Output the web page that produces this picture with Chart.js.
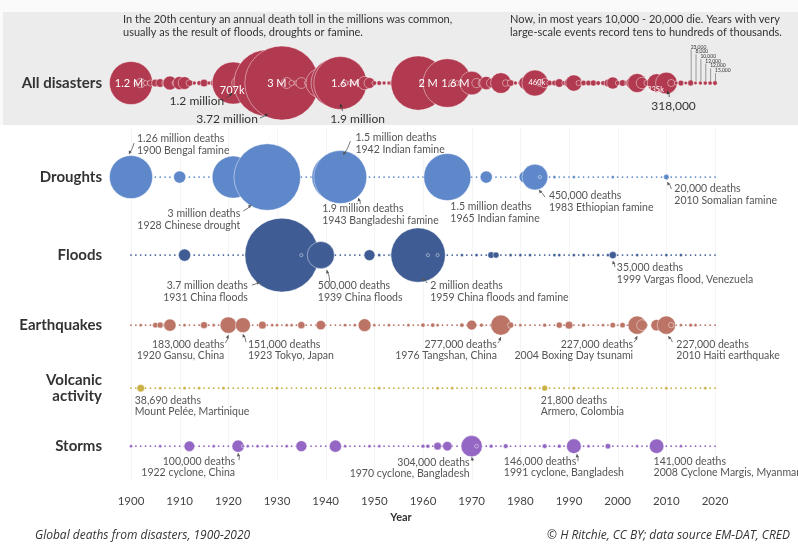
<!DOCTYPE html>
<html>
<head>
<meta charset="utf-8">
<script src="https://cdn.jsdelivr.net/npm/chart.js@4.4.0/dist/chart.umd.min.js"></script>
<style>
    html, body { margin: 0; padding: 0; background: #fff; }
    #wrap { width: 798px; height: 544px; position: relative; }
</style>
</head>
<body>
<div id="wrap"><canvas id="chart"></canvas></div>
<script>
// ---- data (deaths in thousands) ----
const firstYear = 1900;
// all disasters, one value per year 1900..2020
const allDeaths = [
    1260, 10, 60, 15, 25, 40, 50, 30, 130, 20,      // 1900s
    120, 110, 30, 10, 15, 40, 10, 30, 10, 15,       // 1910s
    707, 1200, 110, 160, 20, 15, 20, 50, 3000, 10,  // 1920s
    20, 3720, 80, 20, 15, 80, 10, 20, 10, 600,      // 1930s
    30, 20, 1600, 1900, 20, 10, 10, 15, 120, 80,    // 1940s
    15, 15, 10, 10, 40, 10, 10, 10, 20, 2000,       // 1950s
    30, 15, 20, 50, 20, 1600, 30, 15, 30, 20,       // 1960s
    380, 60, 30, 120, 60, 30, 290, 30, 30, 10,      // 1970s
    15, 110, 20, 460, 30, 60, 20, 20, 50, 15,       // 1980s
    60, 180, 20, 20, 20, 25, 15, 15, 40, 100,       // 1990s
    15, 30, 20, 100, 245, 90, 25, 20, 235, 15,      // 2000s
    318, 35, 10, 22, 8, 23, 8, 10, 12, 12,          // 2010s
    15                                              // 2020
];
const allInside = [[1900, '1.2 M'], [1921, '707k'], [1931, '3 M'], [1943, '1.6 M'], [1959, '2 M'], [1965, '1.6 M'], [1983, '460k'], [2008, '235k']];
const recentYears = [2015, 2016, 2017, 2018, 2019, 2020];
const recentDeaths = ['23,000', '8,000', '10,000', '12,000', '12,000', '15,000'];

const droughtYears  = [1900, 1910, 1920, 1921, 1928, 1940, 1942, 1943, 1965, 1973, 1981, 1983, 1984, 1987, 1991, 1999, 2010];
const droughtDeaths = [1260, 100, 500, 1200, 3000, 2, 1500, 1900, 1500, 100, 100, 450, 5, 3, 3, 2, 20];

const floodYears  = [1911, 1927, 1931, 1935, 1939, 1949, 1951, 1954, 1959, 1961, 1963, 1968, 1971, 1974, 1975, 1978, 1980, 1982, 1987, 1988, 1991, 1993, 1996, 1998, 1999, 2004, 2010, 2013];
const floodDeaths = [100, 3, 3700, 3, 500, 80, 5, 30, 2000, 2, 3, 4, 5, 29, 25, 4, 3, 4, 3, 6, 5, 4, 4, 6, 35, 5, 6, 6];

const quakeYears  = [1902, 1905, 1906, 1907, 1908, 1911, 1915, 1917, 1920, 1923, 1927, 1929, 1930, 1932, 1933, 1935, 1939, 1944, 1946, 1948, 1950, 1953, 1957, 1960, 1962, 1963, 1968, 1970, 1972, 1974, 1976, 1978, 1980, 1985, 1988, 1990, 1993, 1997, 1999, 2001, 2003, 2004, 2005, 2008, 2010, 2011, 2013, 2015, 2016];
const quakeDeaths = [2, 20, 25, 12, 100, 3, 33, 3, 183, 151, 40, 3, 5, 3, 3, 35, 60, 8, 5, 110, 3, 3, 3, 12, 12, 3, 12, 66, 10, 5, 277, 25, 5, 10, 25, 40, 10, 3, 20, 20, 30, 227, 80, 87, 227, 20, 3, 9, 3];

const volcanoYears  = [1902, 1906, 1911, 1914, 1919, 1930, 1951, 1963, 1966, 1982, 1985, 1991, 2010, 2018];
const volcanoDeaths = [38.69, 0.5, 1.3, 0.5, 5, 1.4, 3, 1.6, 1, 2, 21.8, 1, 0.5, 0.5];

const stormYears  = [1900, 1906, 1912, 1917, 1922, 1923, 1924, 1926, 1928, 1932, 1935, 1942, 1944, 1949, 1951, 1960, 1961, 1963, 1965, 1970, 1971, 1974, 1977, 1985, 1988, 1991, 1994, 1998, 2004, 2008, 2013];
const stormDeaths = [6, 6, 75, 5, 100, 5, 5, 5, 5, 5, 80, 100, 5, 5, 5, 10, 11, 40, 60, 304, 10, 10, 15, 15, 10, 146, 5, 20, 5, 141, 7];

const rowNames = ['All disasters', 'Droughts', 'Floods', 'Earthquakes', ['Volcanic', 'activity'], 'Storms'];
const rowColors = ['#b13a50', '#5f88cb', '#3f5d94', '#bb7466', '#c9b146', '#9567c4'];

// ---- layout ----
const rowY = [83, 177, 255, 325, 388, 446];   // px from top of chart area
const radius = d => Math.max(1.6, 19.2 * Math.sqrt(d / 1000));

// annotations: row, year, lines, dx, dy (first line), align, arrow [x1,y1,x2,y2] relative to bubble
const notes = [
    [1, 1900, ['1.26 million deaths', '1900 Bengal famine'], 6, -38, 'left', [3, -34, -2, -23]],
    [1, 1928, ['3 million deaths', '1928 Chinese drought'], -27, 37, 'right', [-24, 34, -16, 28]],
    [1, 1942, ['1.5 million deaths', '1942 Indian famine'], 20, -39, 'left', [15, -36, 8, -22]],
    [1, 1943, ['1.9 million deaths', '1943 Bangladeshi famine'], -18, 32, 'left', [20, 27, 18, 21]],
    [1, 1965, ['1.5 million deaths', '1965 Indian famine'], 3, 30, 'left', null],
    [1, 1983, ['450,000 deaths', '1983 Ethiopian famine'], 14, 19, 'left', [10, 20, 4, 13]],
    [1, 2010, ['20,000 deaths', '2010 Somalian famine'], 8, 12, 'left', [5, 12, 1, 5]],
    [2, 1931, ['3.7 million deaths', '1931 China floods'], -34, 31, 'right', [-30, 30, -22, 27]],
    [2, 1939, ['500,000 deaths', '1939 China floods'], -3, 31, 'left', [9, 27, 6, 15]],
    [2, 1959, ['2 million deaths', '1959 China floods and famine'], 12, 31, 'left', [9, 28, 4, 23]],
    [2, 1999, ['35,000 deaths', '1999 Vargas flood, Venezuela'], 4, 13, 'left', [2, 12, 0, 6]],
    [3, 1920, ['183,000 deaths', '1920 Gansu, China'], -4, 19, 'right', [-3, 18, 0, 10]],
    [3, 1923, ['151,000 deaths', '1923 Tokyo, Japan'], 5, 19, 'left', [3, 17, 0, 9]],
    [3, 1976, ['277,000 deaths', '1976 Tangshan, China'], -4, 19, 'right', [-3, 18, 0, 12]],
    [3, 2004, ['227,000 deaths', '2004 Boxing Day tsunami'], -4, 19, 'right', [-3, 17, 0, 11]],
    [3, 2010, ['227,000 deaths', '2010 Haiti earthquake'], 10, 19, 'left', [6, 17, 2, 11]],
    [4, 1902, ['38,690 deaths', 'Mount Pelée, Martinique'], -6, 12, 'left', null],
    [4, 1985, ['21,800 deaths', 'Armero, Colombia'], -4, 12, 'left', null],
    [5, 1922, ['100,000 deaths', '1922 cyclone, China'], -3, 15, 'right', [1, 14, 0, 7]],
    [5, 1970, ['304,000 deaths', '1970 cyclone, Bangladesh'], -2, 16, 'right', [1, 15, 0, 11]],
    [5, 1991, ['146,000 deaths', '1991 cyclone, Bangladesh'], -70, 15, 'left', [4, 15, 3, 8]],
    [5, 2008, ['141,000 deaths', '2008 Cyclone Margis, Myanmar'], -3, 15, 'left', null]
];
const topNotes = [
    [1921, '1.2 million', -9, 18, 'right', [-7, 15, -1, 10]],
    [1931, '3.72 million', -24, 36, 'right', [-22, 35, -14, 31]],
    [1943, '1.9 million', -10, 36, 'left', [2, 28, 0, 21]],
    [2010, '318,000', -15, 23, 'left', [3, 14, 1, 8]]
];

function rowSet(years, deaths, row) {
    return {
        data: years.map((yr, i) => ({x: yr, y: rowY[row], r: radius(deaths[i])})),
        backgroundColor: rowColors[row],
        borderColor: 'rgba(255,255,255,0.55)',
        borderWidth: 0.8,
        clip: false
    };
}

const allSet = rowSet(allDeaths.map((d, i) => firstYear + i), allDeaths, 0);

function arrow(ctx, x1, y1, x2, y2) {
    ctx.beginPath();
    ctx.moveTo(x1, y1);
    ctx.quadraticCurveTo((x1 + x2) / 2 + 1.5, (y1 + y2) / 2, x2, y2);
    ctx.stroke();
    const a = Math.atan2(y2 - y1, x2 - x1);
    ctx.beginPath();
    ctx.moveTo(x2, y2);
    ctx.lineTo(x2 - 3.5 * Math.cos(a - 0.5), y2 - 3.5 * Math.sin(a - 0.5));
    ctx.lineTo(x2 - 3.5 * Math.cos(a + 0.5), y2 - 3.5 * Math.sin(a + 0.5));
    ctx.closePath();
    ctx.fill();
}

const decor = {
    id: 'decor',
    beforeDraw(chart) {
        const {ctx, scales: {x, y}} = chart;
        ctx.save();
        ctx.fillStyle = '#fafafa';
        ctx.fillRect(0, 0, chart.width, chart.height);
        ctx.fillStyle = '#fff';
        ctx.fillRect(0, 125, chart.width, chart.height - 125);
        ctx.fillStyle = '#ececec';
        ctx.fillRect(3, 12, 795, 113);
        // light decade grid
        ctx.strokeStyle = 'rgba(0,0,0,0.045)';
        ctx.lineWidth = 1;
        for (let yr = 1900; yr <= 2020; yr += 10) {
            const px = Math.round(x.getPixelForValue(yr)) + 0.5;
            ctx.beginPath();
            ctx.moveTo(px, 128);
            ctx.lineTo(px, y.getPixelForValue(480));
            ctx.stroke();
        }
        ctx.restore();
    },
    beforeDatasetsDraw(chart) {
        const {ctx, scales: {x, y}} = chart;
        ctx.save();
        rowY.forEach((ry, row) => {
            ctx.fillStyle = rowColors[row];
            for (let yr = 1900; yr <= 2020; yr++) {
                ctx.beginPath();
                ctx.arc(x.getPixelForValue(yr), y.getPixelForValue(ry), 0.9, 0, Math.PI * 2);
                ctx.fill();
            }
        });
        ctx.restore();
    },
    afterDatasetsDraw(chart) {
        const {ctx, scales: {x, y}} = chart;
        ctx.save();
        ctx.textBaseline = 'middle';

        // row labels
        ctx.fillStyle = '#333';
        ctx.font = 'bold 15px Lato';
        ctx.textAlign = 'right';
        rowNames.forEach((name, row) => {
            const py = y.getPixelForValue(rowY[row]);
            if (Array.isArray(name)) {
                ctx.fillText(name[0], 102, py - 8);
                ctx.fillText(name[1], 102, py + 8);
            } else {
                ctx.fillText(name, 102, py);
            }
        });

        // top panel notes
        ctx.textAlign = 'left';
        ctx.font = '11px Lato';
        ctx.fillStyle = '#333';
        ctx.fillText('In the 20th century an annual death toll in the millions was common,', 123, 19);
        ctx.fillText('usually as the result of floods, droughts or famine.', 123, 32);
        ctx.fillText('Now, in most years 10,000 - 20,000 die. Years with very', 510, 19);
        ctx.fillText('large-scale events record tens to hundreds of thousands.', 510, 32);

        // labels inside the big all-disaster bubbles
        ctx.fillStyle = '#fff';
        ctx.textAlign = 'center';
        allInside.forEach(([yr, txt]) => {
            const d = allDeaths[yr - firstYear];
            ctx.font = (d > 1000 ? 11 : 7.5) + 'px Lato';
            const shift = {1900: -2, 1921: -1, 1931: -5, 1943: 5, 1959: 10, 1965: 8, 1983: 2, 2008: -1}[yr];
            ctx.fillText(txt, x.getPixelForValue(yr) + shift, y.getPixelForValue(rowY[0]) + (yr === 1921 || yr === 2008 ? 7 : 0));
        });

        ctx.strokeStyle = '#444';
        ctx.fillStyle = '#333';
        ctx.lineWidth = 0.8;
        topNotes.forEach(([yr, txt, dx, dy, align, ar]) => {
            const bx = x.getPixelForValue(yr), by = y.getPixelForValue(rowY[0]);
            ctx.font = '12px Lato';
            ctx.textAlign = align;
            ctx.fillText(txt, bx + dx, by + dy);
            arrow(ctx, bx + ar[0], by + ar[1], bx + ar[2], by + ar[3]);
        });

        // tiny labels for the latest years
        ctx.font = '5px Lato';
        ctx.textAlign = 'left';
        ctx.lineWidth = 0.5;
        recentYears.forEach((yr, i) => {
            const bx = x.getPixelForValue(yr), by = y.getPixelForValue(rowY[0]);
            const ty = 47 + i * 4.7;
            ctx.fillText(recentDeaths[i], bx, ty);
            ctx.beginPath();
            ctx.moveTo(bx + 0.5, ty + 2.5);
            ctx.lineTo(bx + 0.5, by - 2);
            ctx.stroke();
        });

        // event annotations
        ctx.font = '10.5px Lato';
        ctx.fillStyle = '#555';
        ctx.strokeStyle = '#555';
        ctx.lineWidth = 0.8;
        notes.forEach(([row, yr, lines, dx, dy, align, ar]) => {
            const bx = x.getPixelForValue(yr), by = y.getPixelForValue(rowY[row]);
            ctx.textAlign = align;
            lines.forEach((ln, k) => ctx.fillText(ln, bx + dx, by + dy + k * 11.5));
            if (ar) arrow(ctx, bx + ar[0], by + ar[1], bx + ar[2], by + ar[3]);
        });

        // axis title and footer
        ctx.fillStyle = '#333';
        ctx.font = 'bold 11px Lato';
        ctx.textAlign = 'center';
        ctx.fillText('Year', 401, 517);
        ctx.font = 'italic 12px "Open Sans"';
        ctx.textAlign = 'left';
        ctx.fillText('Global deaths from disasters, 1900-2020', 35, 536);
        ctx.textAlign = 'right';
        ctx.fillText('\u00a9 H Ritchie, CC BY; data source EM-DAT, CRED', 790, 536);
        ctx.restore();
    }
};

new Chart(document.getElementById('chart'), {
    type: 'bubble',
    data: {
        datasets: [
            allSet,
            rowSet(droughtYears, droughtDeaths, 1),
            rowSet(floodYears, floodDeaths, 2),
            rowSet(quakeYears, quakeDeaths, 3),
            rowSet(volcanoYears, volcanoDeaths, 4),
            rowSet(stormYears, stormDeaths, 5)
        ]
    },
    options: {
        responsive: true,
        maintainAspectRatio: false,
        animation: false,
        events: [],
        layout: {autoPadding: false, padding: {left: 131, right: 83, top: 0, bottom: 32}},
        scales: {
            x: {
                type: 'linear',
                min: 1900,
                max: 2020,
                grid: {display: false, drawTicks: false},
                border: {display: false},
                ticks: {
                    stepSize: 10,
                    padding: 4,
                    color: '#444',
                    font: {family: 'Lato', size: 11.5},
                    callback: v => String(v)
                }
            },
            y: {type: 'linear', min: 0, max: 490, reverse: true, display: false}
        },
        plugins: {legend: {display: false}, tooltip: {enabled: false}}
    },
    plugins: [decor]
});
</script>
</body>
</html>
